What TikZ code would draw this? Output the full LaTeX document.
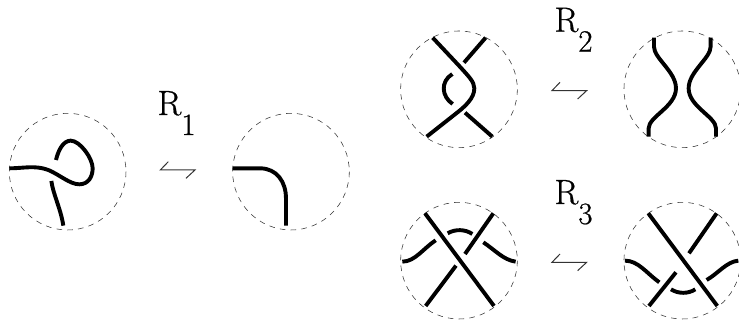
\documentclass[tikz,border=0pt]{standalone}
\usepackage{fontspec}
\newfontfamily\lmten[FakeBold=0.7]{Latin Modern Roman}
\begin{document}
\begin{tikzpicture}[
  strand/.style={line width=3.9pt,black},
  disc/.style={line width=.55pt,black!80,dash pattern=on 5.6pt off 5.2pt},
  harp/.style={line width=1pt,black!80,line join=miter},
  lab/.style={inner sep=0pt,anchor=base west,font=\lmten\fontsize{35}{36}\selectfont}
]
\useasboundingbox (0,0) rectangle (739pt,321pt);
\newcommand{\sub}[1]{\raisebox{-20pt}{\fontsize{31}{32}\selectfont #1}}
% R1
\begin{scope}[shift={(0pt,241pt)},x=.3333pt,y=-.3333pt]
\draw[disc] (203,275) circle (175);
\draw[disc] (873,275) circle (175);
\draw[strand] (28,265) .. controls (70,265) and (105,255) .. (145,270)
  .. controls (180,285) and (210,313) .. (238,313)
  .. controls (265,313) and (278,290) .. (278,265)
  .. controls (278,235) and (240,182) .. (212,182)
  .. controls (190,182) and (175,210) .. (168,240);
\draw[strand] (154,303) .. controls (160,345) and (182,385) .. (190,437);
\draw[strand] (698,265) -- (780,265) .. controls (830,265) and (858,305) .. (858,355) -- (858,437);
\draw[harp] (505,245) -- (481,270) -- (585,270) -- (558,295);
\node[lab] (r1) at (472,105) {R\sub{1}};
\end{scope}
% R2
\begin{scope}[shift={(390pt,321pt)},x=.3333pt,y=-.3333pt]
\draw[disc] (207,268) circle (175);
\draw[disc] (877,268) circle (175);
\draw[strand] (128,113) -- (205,195) .. controls (235,228) and (253,245) .. (253,265)
  .. controls (253,295) and (225,320) .. (195,343) -- (110,410);
\draw[strand] (287,113) -- (222,188);
\draw[strand] (187,222) .. controls (150,245) and (155,290) .. (188,312);
\draw[strand] (225,338) -- (307,410);
\draw[strand] (792,113) -- (792,140) .. controls (792,175) and (858,215) .. (858,265)
  .. controls (858,320) and (776,350) .. (776,385) -- (776,410);
\draw[strand] (962,113) -- (962,140) .. controls (962,175) and (896,215) .. (896,265)
  .. controls (896,320) and (978,350) .. (978,385) -- (978,410);
\draw[harp] (510,247) -- (486,272) -- (590,272) -- (563,297);
\node[lab] (r2) at (493,95) {R\sub{2}};
\end{scope}
% R3
\begin{scope}[shift={(390pt,161pt)},x=.3333pt,y=-.3333pt]
\draw[disc] (207,302) circle (175);
\draw[disc] (877,302) circle (175);
\draw[strand] (105,160) -- (312,438);
\draw[strand] (310,160) -- (225,282);
\draw[strand] (198,317) -- (107,438);
\draw[strand] (37,305) .. controls (75,305) and (100,265) .. (137,241);
\draw[strand] (173,220) .. controls (195,207) and (225,207) .. (247,222);
\draw[strand] (280,247) .. controls (315,270) and (340,300) .. (377,305);
\draw[strand] (775,160) -- (982,438);
\draw[strand] (980,160) -- (897,280);
\draw[strand] (858,337) -- (777,438);
\draw[strand] (705,302) .. controls (745,302) and (770,340) .. (808,367);
\draw[strand] (843,388) .. controls (865,402) and (895,402) .. (916,388);
\draw[strand] (950,360) .. controls (985,340) and (1010,305) .. (1045,302);
\draw[harp] (510,282) -- (486,307) -- (590,307) -- (563,332);
\node[lab] (r3) at (493,132) {R\sub{3}};
\end{scope}
\end{tikzpicture}
\end{document}
